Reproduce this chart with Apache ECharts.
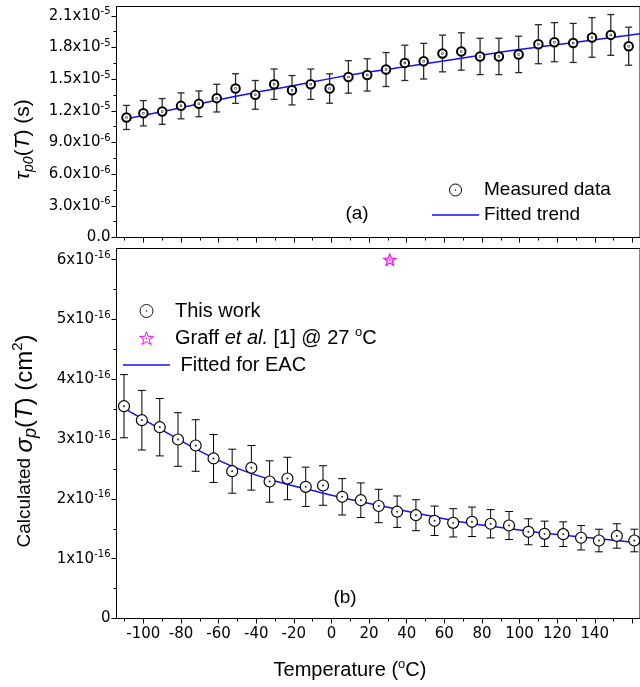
<!DOCTYPE html>
<html><head><meta charset="utf-8">
<script src="https://cdn.jsdelivr.net/npm/echarts@6/dist/echarts.min.js"></script>
<style>html,body{margin:0;padding:0;background:#fff}#c{width:640px;height:687px}</style>
</head><body><div id="c"></div>
<script>
// ---------- data ----------
// Panel (a): tau_p0(T)
const tempA = [-109, -100, -90, -80, -70.5, -61, -51, -40.5, -30.5, -21, -11, -1, 9, 19, 29, 39, 49, 59, 69, 79, 89, 99.5, 110, 118.5, 128.5, 138.5, 148.5, 158];
const tauVals = [1.137e-5, 1.177e-5, 1.194e-5, 1.247e-5, 1.266e-5, 1.320e-5, 1.411e-5, 1.351e-5, 1.452e-5, 1.395e-5, 1.452e-5, 1.411e-5, 1.521e-5, 1.540e-5, 1.591e-5, 1.654e-5, 1.670e-5, 1.743e-5, 1.762e-5, 1.715e-5, 1.715e-5, 1.734e-5, 1.831e-5, 1.850e-5, 1.843e-5, 1.895e-5, 1.919e-5, 1.812e-5];
const tauErr = [0.114e-5, 0.120e-5, 0.122e-5, 0.123e-5, 0.122e-5, 0.131e-5, 0.140e-5, 0.136e-5, 0.144e-5, 0.139e-5, 0.144e-5, 0.139e-5, 0.154e-5, 0.153e-5, 0.161e-5, 0.167e-5, 0.169e-5, 0.174e-5, 0.177e-5, 0.172e-5, 0.172e-5, 0.172e-5, 0.185e-5, 0.185e-5, 0.185e-5, 0.188e-5, 0.193e-5, 0.180e-5];
const tempFitA = [-110, -80, -50, -20, 10, 40, 70, 100, 130, 164];
const tauFit = [1.12e-5, 1.23e-5, 1.34e-5, 1.44e-5, 1.54e-5, 1.62e-5, 1.70e-5, 1.78e-5, 1.85e-5, 1.93e-5];

// Panel (b): sigma_p(T)
const tempB = [-110.3, -100.8, -91.3, -81.6, -72.2, -62.7, -52.8, -42.6, -32.9, -23.4, -13.7, -4.5, 5.7, 15.6, 25.1, 34.9, 44.9, 54.8, 64.7, 74.7, 84.6, 94.4, 104.7, 113.3, 123.2, 132.7, 142.2, 151.7, 161.0];
const sigmaVals = [3.550e-16, 3.316e-16, 3.199e-16, 2.993e-16, 2.893e-16, 2.676e-16, 2.463e-16, 2.520e-16, 2.291e-16, 2.341e-16, 2.202e-16, 2.224e-16, 2.035e-16, 1.978e-16, 1.881e-16, 1.786e-16, 1.727e-16, 1.634e-16, 1.600e-16, 1.617e-16, 1.584e-16, 1.555e-16, 1.450e-16, 1.416e-16, 1.410e-16, 1.350e-16, 1.304e-16, 1.380e-16, 1.304e-16];
const sigmaErr = [0.528e-16, 0.498e-16, 0.480e-16, 0.448e-16, 0.431e-16, 0.401e-16, 0.368e-16, 0.373e-16, 0.346e-16, 0.355e-16, 0.329e-16, 0.331e-16, 0.304e-16, 0.289e-16, 0.279e-16, 0.263e-16, 0.259e-16, 0.246e-16, 0.237e-16, 0.246e-16, 0.237e-16, 0.234e-16, 0.217e-16, 0.212e-16, 0.206e-16, 0.204e-16, 0.189e-16, 0.204e-16, 0.189e-16];
const tempFitB = [-110, -90, -70, -50, -30, -10, 10, 30, 50, 70, 90, 110, 130, 150, 164];
const sigmaFit = [3.51e-16, 3.15e-16, 2.80e-16, 2.51e-16, 2.30e-16, 2.14e-16, 1.99e-16, 1.86e-16, 1.73e-16, 1.61e-16, 1.52e-16, 1.44e-16, 1.37e-16, 1.31e-16, 1.26e-16];
const graffTemp = [31];
const graffVals = [6.0e-16];

// ticks
const xTickLabels = [-100, -80, -60, -40, -20, 0, 20, 40, 60, 80, 100, 120, 140];
const xMajorTicks = [-100, -80, -60, -40, -20, 0, 20, 40, 60, 80, 100, 120, 140, 160];
const xMinorTicks = [-110, -90, -70, -50, -30, -10, 10, 30, 50, 70, 90, 110, 130, 150];
const tauTicks = [0, 3e-6, 6e-6, 9e-6, 1.2e-5, 1.5e-5, 1.8e-5, 2.1e-5];
const tauMinorTicks = [1.5e-6, 4.5e-6, 7.5e-6, 1.05e-5, 1.35e-5, 1.65e-5, 1.95e-5];
const sigmaTicks = [0, 1e-16, 2e-16, 3e-16, 4e-16, 5e-16, 6e-16];
const sigmaMinorTicks = [0.5e-16, 1.5e-16, 2.5e-16, 3.5e-16, 4.5e-16, 5.5e-16];

// ---------- chart ----------
const XMIN = -114.29, XMAX = 164.02;
const TAU_MAX = 2.188e-5, SIG_MAX = 6.187e-16;
const DOT_CIRCLE = 'path://M10,0A10,10,0,1,1,10,20A10,10,0,1,1,10,0ZM10,9.4A0.6,0.6,0,1,1,10,10.6A0.6,0.6,0,1,1,10,9.4Z';
const STAR = 'path://M10,0L12.35,6.76L19.51,6.91L13.8,11.24L15.88,18.09L10,14L4.12,18.09L6.2,11.24L0.49,6.91L7.65,6.76ZM10,9.4A0.6,0.6,0,1,1,10,10.6A0.6,0.6,0,1,1,10,9.4Z';
const LINE_ICON = 'path://M0,0L100,0L100,3L0,3Z';
const BLUE = '#1010ff';
const AX = {color: '#000', width: 1};
const SANS = 'Liberation Sans';
const TICKF = 'DejaVu Sans';

function sciFmt(digits) {
  return function (v) {
    if (Math.abs(v) < 1e-30) return '{m|' + (digits ? '0.0' : '0') + '}';
    const e = Math.floor(Math.log10(v) + 1e-9);
    const m = v / Math.pow(10, e);
    return '{m|' + m.toFixed(digits) + 'x10}{e|' + e + '}';
  };
}
const labelRich = {
  m: {fontFamily: TICKF, fontSize: 15, color: '#000', lineHeight: 18},
  e: {fontFamily: TICKF, fontSize: 10, color: '#000', lineHeight: 10, verticalAlign: 'top'}
};

function errRender(cap, color, lw) {
  return function (params, api) {
    const x = api.value(0), lo = api.value(1), hi = api.value(2);
    const a = api.coord([x, hi]), b = api.coord([x, lo]);
    const st = {stroke: color, lineWidth: lw};
    return {type: 'group', children: [
      {type: 'line', shape: {x1: a[0], y1: a[1], x2: b[0], y2: b[1]}, style: st},
      {type: 'line', shape: {x1: a[0] - cap, y1: a[1], x2: a[0] + cap, y2: a[1]}, style: st},
      {type: 'line', shape: {x1: b[0] - cap, y1: b[1], x2: b[0] + cap, y2: b[1]}, style: st}
    ]};
  };
}

function xAxisPair(grid, withLabels) {
  return [
    {gridIndex: grid, type: 'value', min: XMIN, max: XMAX, position: 'bottom',
     axisLine: {show: true, onZero: false, lineStyle: AX},
     axisTick: {show: true, inside: false, length: 5, customValues: xMajorTicks, lineStyle: AX},
     axisLabel: withLabels ? {show: true, customValues: xTickLabels, margin: 8, fontFamily: TICKF, fontSize: 15, color: '#000'} : {show: false},
     splitLine: {show: false}},
    {gridIndex: grid, type: 'value', min: XMIN, max: XMAX, position: 'bottom',
     axisLine: {show: false, onZero: false},
     axisTick: {show: true, inside: false, length: 3, customValues: xMinorTicks, lineStyle: AX},
     axisLabel: {show: false}, splitLine: {show: false}}
  ];
}
function yAxisPair(grid, max, ticks, minor, digits) {
  return [
    {gridIndex: grid, type: 'value', min: 0, max: max, position: 'left',
     axisLine: {show: true, onZero: false, lineStyle: AX},
     axisTick: {show: true, inside: false, length: 5, customValues: ticks, lineStyle: AX},
     axisLabel: {show: true, customValues: ticks, margin: 6, formatter: sciFmt(digits), rich: labelRich},
     splitLine: {show: false}},
    {gridIndex: grid, type: 'value', min: 0, max: max, position: 'left',
     axisLine: {show: false, onZero: false},
     axisTick: {show: true, inside: false, length: 3, customValues: minor, lineStyle: AX},
     axisLabel: {show: false}, splitLine: {show: false}}
  ];
}

const chart = echarts.init(document.getElementById('c'), null, {renderer: 'canvas'});
chart.setOption({
  animation: false,
  backgroundColor: '#fff',
  grid: [
    {left: 116.5, top: 6.5, width: 526, height: 231, show: true, borderColor: '#000', borderWidth: 1, backgroundColor: 'transparent'},
    {left: 116.5, top: 248.5, width: 526, height: 370, show: true, borderColor: '#000', borderWidth: 1, backgroundColor: 'transparent'}
  ],
  xAxis: [].concat(xAxisPair(0, false), xAxisPair(1, true)),
  yAxis: [].concat(yAxisPair(0, TAU_MAX, tauTicks, tauMinorTicks, 1), yAxisPair(1, SIG_MAX, sigmaTicks, sigmaMinorTicks, 0)),
  legend: [
    {left: 432, top: 180, padding: 0, orient: 'vertical', itemWidth: 47, itemHeight: 12, itemGap: 5, selectedMode: false,
     textStyle: {fontFamily: SANS, fontSize: 19, color: '#000', lineHeight: 20},
     data: [{name: 'Measured data', itemStyle: {color: '#fff', borderColor: '#000', borderWidth: 1}},
            {name: 'Fitted trend', icon: LINE_ICON}]},
    {left: 123, top: 299, padding: 0, orient: 'vertical', itemWidth: 47, itemHeight: 13, itemGap: 3, selectedMode: false,
     textStyle: {fontFamily: SANS, fontSize: 20, color: '#000', lineHeight: 24,
       rich: {
         n: {fontFamily: SANS, fontSize: 20, color: '#000', lineHeight: 24},
         i: {fontFamily: SANS, fontSize: 20, fontStyle: 'italic', color: '#000', lineHeight: 24},
         s: {fontFamily: SANS, fontSize: 13, color: '#000', lineHeight: 13, verticalAlign: 'top'}
       }},
     formatter: function (name) {
       if (name === 'Graff et al. [1] @ 27 °C') return '{n|Graff }{i|et al.}{n| [1] @ 27 }{s|o}{n|C}';
       if (name === 'Fitted for EAC') return '{n| Fitted for EAC}';
       return '{n|' + name + '}';
     },
     data: [{name: 'This work', itemStyle: {color: '#fff', borderColor: '#000', borderWidth: 0.9}},
            {name: 'Graff et al. [1] @ 27 °C', itemStyle: {color: '#fff', borderColor: '#ff00ff', borderWidth: 1}},
            {name: 'Fitted for EAC', icon: LINE_ICON}]}
  ],
  series: [
    {type: 'custom', xAxisIndex: 0, yAxisIndex: 0, silent: true, z: 1,
     renderItem: errRender(3.5, '#2a2a2a', 1.3), encode: {x: 0, y: [1, 2]},
     data: tempA.map((t, i) => [t, tauVals[i] - tauErr[i], tauVals[i] + tauErr[i]])},
    {type: 'line', name: 'Fitted trend', xAxisIndex: 0, yAxisIndex: 0, z: 2, symbol: 'none', smooth: 0.4,
     lineStyle: {color: BLUE, width: 1.5}, itemStyle: {color: BLUE},
     data: tempFitA.map((t, i) => [t, tauFit[i]])},
    {type: 'scatter', name: 'Measured data', xAxisIndex: 0, yAxisIndex: 0, z: 3,
     symbol: DOT_CIRCLE, symbolSize: 8.5,
     itemStyle: {color: '#fff', borderColor: '#000', borderWidth: 2, opacity: 1},
     data: tempA.map((t, i) => [t, tauVals[i]])},

    {type: 'custom', xAxisIndex: 2, yAxisIndex: 2, silent: true, z: 1,
     renderItem: errRender(4, '#000', 1), encode: {x: 0, y: [1, 2]},
     data: tempB.map((t, i) => [t, sigmaVals[i] - sigmaErr[i], sigmaVals[i] + sigmaErr[i]])},
    {type: 'line', name: 'Fitted for EAC', xAxisIndex: 2, yAxisIndex: 2, z: 2, symbol: 'none', smooth: 0.4,
     lineStyle: {color: BLUE, width: 1.5}, itemStyle: {color: BLUE},
     data: tempFitB.map((t, i) => [t, sigmaFit[i]])},
    {type: 'scatter', name: 'This work', xAxisIndex: 2, yAxisIndex: 2, z: 3,
     symbol: DOT_CIRCLE, symbolSize: 11,
     itemStyle: {color: '#fff', borderColor: '#000', borderWidth: 1.2, opacity: 1},
     data: tempB.map((t, i) => [t, sigmaVals[i]])},
    {type: 'scatter', name: 'Graff et al. [1] @ 27 °C', xAxisIndex: 2, yAxisIndex: 2, z: 3,
     symbol: STAR, symbolSize: 12, symbolKeepAspect: true,
     itemStyle: {color: '#fff', borderColor: '#ff00ff', borderWidth: 1.2, opacity: 1},
     data: graffTemp.map((t, i) => [t, graffVals[i]])}
  ],
  graphic: [
    {type: 'text', x: 357, y: 214, style: {text: '(a)', fontFamily: SANS, fontSize: 19, fill: '#000', align: 'center', verticalAlign: 'middle'}},
    {type: 'text', x: 345, y: 598, style: {text: '(b)', fontFamily: SANS, fontSize: 19, fill: '#000', align: 'center', verticalAlign: 'middle'}},
    {type: 'text', x: 350, y: 670, style: {
      text: '{n|Temperature (}{s|o}{n|C)}', align: 'center', verticalAlign: 'middle',
      rich: {
        n: {fontFamily: SANS, fontSize: 20, fill: '#000', lineHeight: 24},
        s: {fontFamily: SANS, fontSize: 13, fill: '#000', lineHeight: 13, verticalAlign: 'top'}
      }}},
    {type: 'text', x: 23, y: 139.5, rotation: Math.PI / 2, style: {
      text: '{g|τ}{sub|p0}{n|(}{i|T}{n|) (s)}', align: 'center', verticalAlign: 'middle',
      rich: {
        g: {fontFamily: SANS, fontSize: 21, fontStyle: 'italic', fill: '#000', lineHeight: 26},
        n: {fontFamily: SANS, fontSize: 21, fill: '#000', lineHeight: 26},
        i: {fontFamily: SANS, fontSize: 21, fontStyle: 'italic', fill: '#000', lineHeight: 26},
        sub: {fontFamily: SANS, fontSize: 14, fontStyle: 'italic', fill: '#000', lineHeight: 14, verticalAlign: 'bottom'}
      }}},
    {type: 'text', x: 25, y: 441, rotation: Math.PI / 2, style: {
      text: '{n|Calculated }{g|σ}{sub|p}{n2|(}{i|T}{n2|) (cm}{sup|2}{n2|)}', align: 'center', verticalAlign: 'middle',
      rich: {
        n: {fontFamily: SANS, fontSize: 19, fill: '#000', lineHeight: 30},
        n2: {fontFamily: SANS, fontSize: 24, fill: '#000', lineHeight: 30},
        g: {fontFamily: SANS, fontSize: 24, fontStyle: 'italic', fill: '#000', lineHeight: 30},
        i: {fontFamily: SANS, fontSize: 24, fontStyle: 'italic', fill: '#000', lineHeight: 30},
        sub: {fontFamily: SANS, fontSize: 18, fontStyle: 'italic', fill: '#000', lineHeight: 18, verticalAlign: 'bottom'},
        sup: {fontFamily: SANS, fontSize: 15, fill: '#000', lineHeight: 15, verticalAlign: 'top'}
      }}}
  ]
});
</script>
</body></html>
